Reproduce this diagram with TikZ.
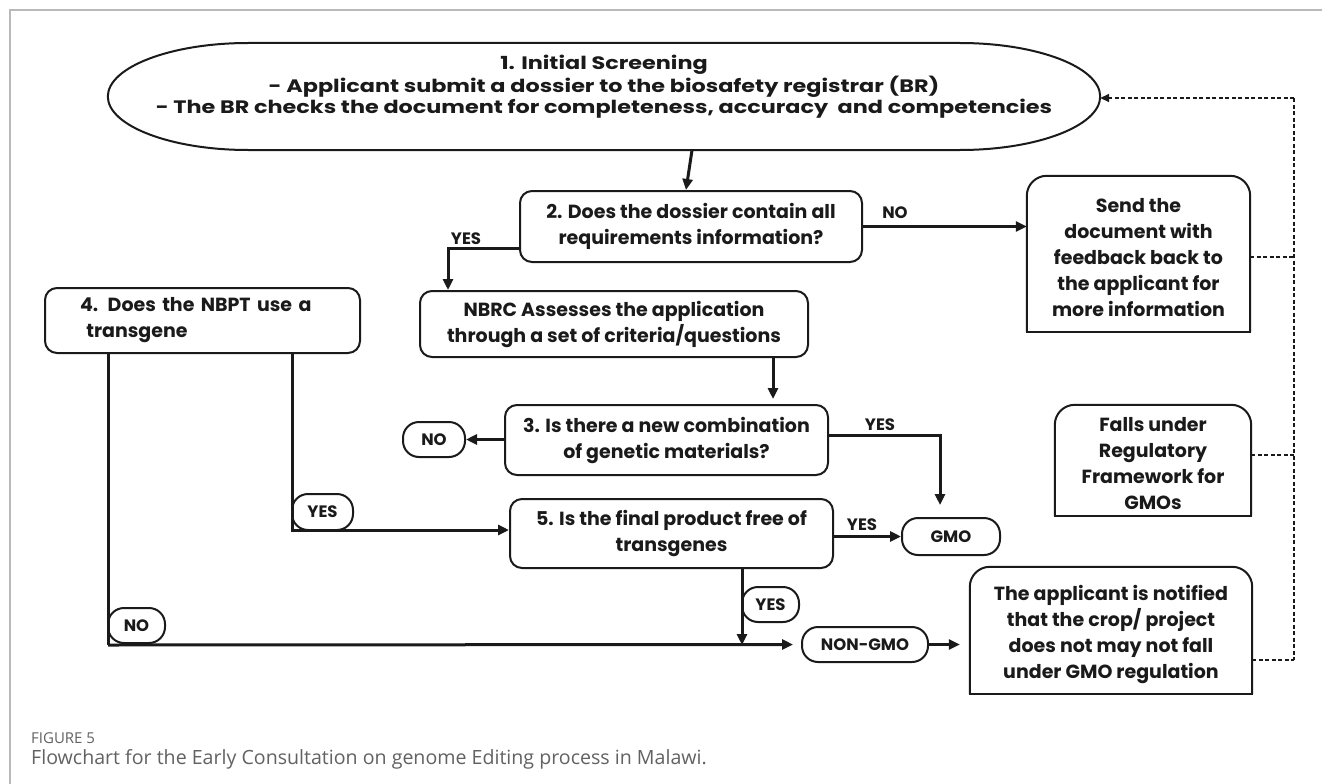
\documentclass[tikz,border=0pt]{standalone}
\usepackage{fontspec}
\setmainfont{Poppins}
\newfontfamily\widefont[FakeStretch=1.24]{Poppins}
\newfontfamily\capfont{Open Sans}
\usetikzlibrary{arrows.meta}

\definecolor{ink}{HTML}{1A1A1A}
\definecolor{capgray}{HTML}{626262}

\tikzset{
  flowtext/.style={font=\bfseries\fontsize{19}{26}\selectfont, text=ink, align=center, inner sep=0pt},
  boxline/.style={draw=ink, line width=2pt},
  roundbox/.style={flowtext, boxline, rounded corners=12pt, anchor=center},
  holder/.style={inner sep=0pt, anchor=center},
  pill/.style={boxline, rounded corners=16pt, anchor=center, inner sep=0pt,
    font=\bfseries\fontsize{16.5}{20}\selectfont, text=ink},
  flow/.style={draw=ink, line width=3pt, -{Triangle[length=11pt,width=10pt]}},
  plain/.style={draw=ink, line width=3pt},
  feedback/.style={draw=ink, line width=1.6pt, dash pattern=on 4pt off 2.5pt},
  lab/.style={font=\bfseries\fontsize{16.5}{18}\selectfont, text=ink, inner sep=0pt},
}

\begin{document}
\begin{tikzpicture}[x=1pt, y=-1pt]
\useasboundingbox (0,0) rectangle (1322,784);
\fill[white] (0,0) rectangle (1322,784);

% page frame
\draw[gray!55, line width=1.6pt] (10,784) -- (10,10) -- (1322,10);

% step 1: screening terminal with elliptic ends
\node[holder, minimum width=992pt, minimum height=107pt] (init) at (604,96.5) {};
\draw[boxline] (init.west) .. controls (108,67) and (171,43) .. (248,43)
  -- (960,43) .. controls (1037,43) and (1100,67) .. (init.east)
  .. controls (1100,126) and (1037,150) .. (960,150)
  -- (248,150) .. controls (171,150) and (108,126) .. (init.west) -- cycle;
\node[flowtext, font=\bfseries\widefont\fontsize{18}{21}\selectfont] (inittext) at (604,86.5)
  {1. Initial Screening\\- Applicant submit a dossier to the biosafety registrar (BR)\\- The BR checks the document for completeness, accuracy\ \ and competencies};

% decision and process boxes
\node[roundbox, minimum width=342pt, minimum height=71pt] (q2) at (691,226.5)
  {2. Does the dossier contain all\\requirements information?};
\node[roundbox, minimum width=388pt, minimum height=66pt] (nbrc) at (614,324)
  {NBRC Assesses the application\\through a set of criteria/questions};
\node[roundbox, minimum width=315pt, minimum height=65pt, align=left, text width=245pt] (q4) at (202.5,320.5)
  {4. Does the NBPT use a\\\ transgene};
\node[roundbox, minimum width=323pt, minimum height=70pt] (q3) at (666.5,440)
  {3. Is there a new combination\\of genetic materials?};
\node[roundbox, minimum width=323pt, minimum height=69pt] (q5) at (671.5,533.5)
  {5. Is the final product free of\\transgenes};

% outcome boxes with rounded tops
\node[holder, minimum width=223pt, minimum height=156pt] (send) at (1138.5,254) {};
\node[holder, minimum width=196pt, minimum height=111pt] (falls) at (1153,460.5) {};
\node[holder, minimum width=282pt, minimum height=127pt] (notify) at (1111,630.5) {};
\foreach \b in {send,falls,notify}{
  \draw[boxline, rounded corners=20pt] (\b.south west) -- (\b.north west) -- (\b.north east) -- (\b.south east);
  \draw[boxline, line cap=rect] (\b.south west) -- (\b.south east);
}
\node[flowtext] (sendtext) at (1138.5,258)
  {Send the\\document with\\feedback back to\\the applicant for\\more information};
\node[flowtext] (fallstext) at (1153,464)
  {Falls under\\Regulatory\\Framework for\\GMOs};
\node[flowtext] (notifytext) at (1111,634)
  {The applicant is notified\\that the crop/ project\\does not may not fall\\under GMO regulation};

% result pills
\node[pill, minimum width=62pt, minimum height=35pt] (no3) at (434,439.5) {NO};
\node[pill, minimum width=98pt, minimum height=37pt] (gmo) at (951,536.5) {GMO};
\node[pill, minimum width=57pt, minimum height=35pt] (yes5) at (770.5,604.5) {YES};
\node[pill, minimum width=126pt, minimum height=35pt] (nongmo) at (865,644.5) {NON-GMO};
\node[pill, minimum width=57pt, minimum height=35pt] (no4) at (136.5,625.5) {NO};
\node[pill, minimum width=61pt, minimum height=36pt] (yes4) at (322.5,512) {YES};

% junction points of the connectors
\coordinate (yb) at (448,248);
\coordinate (g1) at (940,435);
\coordinate (j5) at (742,645);
\coordinate (lb) at (108,645);
\coordinate (rb) at (292,530);
\coordinate (fb) at (1294,98);
\coordinate (fe) at (1294,660);

% solid flow
\draw[flow] ([xshift=88pt]init.south) -- ([xshift=-5pt]q2.north);
\draw[flow] (q2.east) -- (q2.east -| send.west);
\node[lab] (nolab2) at (895,213) {NO};
\draw[flow] (q2.west |- yb) -- (yb) -- (yb |- nbrc.north);
\node[lab] (yeslab2) at (466,239) {YES};
\draw[flow, shorten >=5pt] (nbrc.south -| 773,0) -- (q3.north -| 773,0);
\draw[flow] (q3.west |- no3.east) -- (no3.east);
\draw[flow, shorten >=12pt] (q3.east |- g1) -- (g1) -- (g1 |- gmo.north);
\node[lab] (yeslab3) at (880,425) {YES};
\draw[flow] (q5.east |- gmo.west) -- (gmo.west);
\node[lab] (yeslab5) at (862,525) {YES};
\draw[flow] (q5.south -| j5) -- (j5);
\draw[plain] (q4.south -| lb) -- (lb);
\draw[flow, shorten >=8pt] (lb) -- (nongmo.west);
\draw[flow] (q4.south -| rb) -- (rb) -- (rb -| q5.west);
\draw[flow, shorten >=10pt] (nongmo.east) -- (nongmo.east -| notify.west);

% dashed feedback loop
\draw[feedback] (fb) -- (fe);
\draw[feedback] (send.east |- 0,257) -- (1294,257);
\draw[feedback] (falls.east |- 0,455) -- (1294,455);
\draw[feedback] (notify.east |- fe) -- (fe);
\draw[feedback, -{Triangle[length=9pt,width=8pt]}] (fb) -- (fb -| init.east);

% caption
\node[anchor=west, inner sep=0pt, text=capgray, font=\capfont\fontsize{15}{17}\selectfont] (fig) at (31,738) {FIGURE 5};
\node[anchor=west, inner sep=0pt, text=capgray, font=\capfont\fontsize{19.6}{22}\selectfont] (cap) at (31,759) {Flowchart for the Early Consultation on genome Editing process in Malawi.};
\end{tikzpicture}
\end{document}
